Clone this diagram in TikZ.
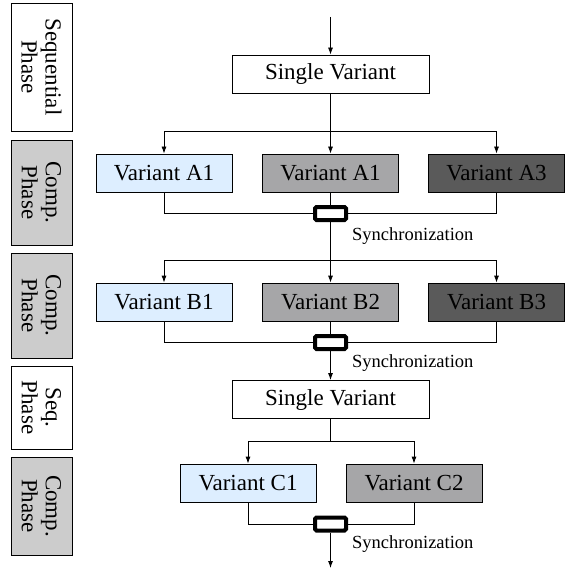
\documentclass[tikz,border=0pt]{standalone}
\usepackage{fontspec}
\setmainfont{Liberation Serif}
\usepackage{tikz}
\usetikzlibrary{arrows.meta}

\definecolor{lightblue}{HTML}{DDEEFF}
\definecolor{midgray}{HTML}{A6A6A8}
\definecolor{darkgray}{HTML}{5A5A5A}
\definecolor{phasegray}{HTML}{CCCCCC}

\tikzset{
  variant/.style={draw=black,line width=0.8pt,minimum width=136pt,minimum height=38pt,
    inner sep=0pt,font=\fontsize{23}{24}\selectfont},
  single/.style={variant,fill=white,minimum width=197pt},
  phase/.style={draw=black,line width=0.8pt,rotate=-90,align=center,inner sep=0pt,
    minimum height=61pt,font=\fontsize{23}{24}\selectfont},
  sync/.style={draw=black,fill=white,line width=4pt,rounded corners=1.5pt,
    minimum width=31pt,minimum height=13pt,inner sep=0pt},
  synclabel/.style={anchor=west,inner sep=0pt,font=\fontsize{18.5}{19}\selectfont},
  flow/.style={line width=0.8pt}
}

\begin{document}
\begin{tikzpicture}[x=1pt,y=-1pt]
\useasboundingbox (0,0) rectangle (567,569);
\begin{scope}[>={Latex[length=7pt,width=5pt]}]

    % phases
    \node[phase,fill=white,minimum width=128pt] (p1) at (41.5,67) {Sequential\\Phase};
    \node[phase,fill=phasegray,minimum width=105pt] (p2) at (41.5,192.5) {Comp.\\Phase};
    \node[phase,fill=phasegray,minimum width=105pt] (p3) at (41.5,305.5) {Comp.\\Phase};
    \node[phase,fill=white,minimum width=83pt] (p4) at (41.5,407.5) {Seq.\\Phase};
    \node[phase,fill=phasegray,minimum width=98pt] (p5) at (41.5,506) {Comp.\\Phase};

    % first sequential part
    \coordinate (in) at (330.5,17);
    \node[single] (s1) at (330.5,74) {Single Variant};
    \draw[flow,->] (in) -- (s1.north);

    % A variants
    \node[variant,fill=lightblue] (a1) at (164,173) {Variant A1};
    \node[variant,fill=midgray] (a2) at (330.5,173) {Variant A1};
    \node[variant,fill=darkgray] (a3) at (496.5,173) {Variant A3};
    \coordinate (fa) at (330.5,131);
    \draw[flow,->] (s1.south) -- (a2.north);
    \draw[flow,->] (fa) -| (a1.north);
    \draw[flow,->] (fa) -| (a3.north);
    \node[sync] (y1) at (330.5,213.5) {};
    \draw[flow] (a1.south) |- (y1.west);
    \draw[flow] (a3.south) |- (y1.east);
    \draw[flow] (a2.south) -- (y1.north);
    \node[synclabel] (l1) at (352,236) {Synchronization};

    % B variants
    \node[variant,fill=lightblue] (b1) at (164,302) {Variant B1};
    \node[variant,fill=midgray] (b2) at (330.5,302) {Variant B2};
    \node[variant,fill=darkgray] (b3) at (496.5,302) {Variant B3};
    \coordinate (fb) at (330.5,260);
    \draw[flow,->] (y1.south) -- (b2.north);
    \draw[flow,->] (fb) -| (b1.north);
    \draw[flow,->] (fb) -| (b3.north);
    \node[sync] (y2) at (330.5,342.5) {};
    \draw[flow] (b1.south) |- (y2.west);
    \draw[flow] (b3.south) |- (y2.east);
    \draw[flow] (b2.south) -- (y2.north);
    \node[synclabel] (l2) at (352,363) {Synchronization};

    % second sequential part
    \node[single] (s2) at (330.5,399.5) {Single Variant};
    \draw[flow,->] (y2.south) -- (s2.north);

    % C variants
    \node[variant,fill=lightblue] (c1) at (248,483) {Variant C1};
    \node[variant,fill=midgray] (c2) at (414,483) {Variant C2};
    \coordinate (fc) at (330.5,441);
    \draw[flow] (s2.south) -- (fc);
    \draw[flow,->] (fc) -| (c1.north);
    \draw[flow,->] (fc) -| (c2.north);
    \node[sync] (y3) at (330.5,524) {};
    \draw[flow] (c1.south) |- (y3.west);
    \draw[flow] (c2.south) |- (y3.east);
    \node[synclabel] (l3) at (352,544) {Synchronization};
    \coordinate (out) at (330.5,568);
    \draw[flow,->] (y3.south) -- (out);

\end{scope}
\end{tikzpicture}
\end{document}
